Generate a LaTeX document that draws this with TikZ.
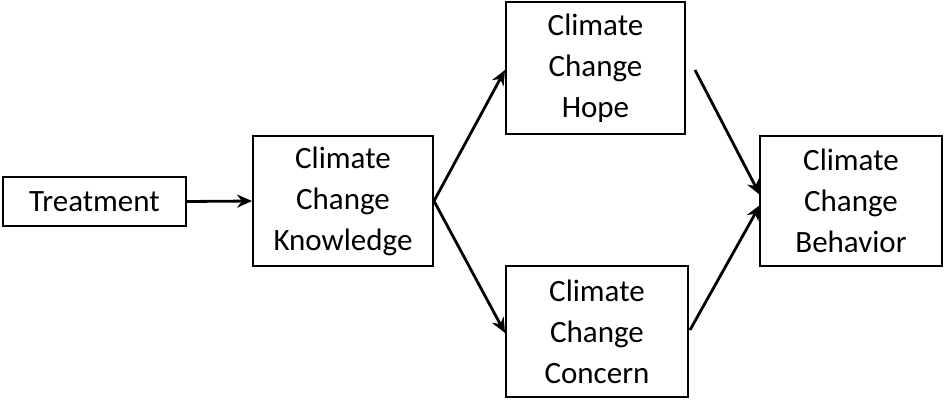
\documentclass[tikz,border=0pt]{standalone}
\usetikzlibrary{arrows.meta}
\usepackage{fontspec}
\setmainfont{Carlito}
\begin{document}
\begin{tikzpicture}[x=1pt,y=-1pt,
  box/.style={draw,line width=1.8pt,inner sep=0pt,align=center,font=\fontsize{31}{41}\selectfont},
  arr/.style={line width=2.8pt,-{Stealth[length=15pt,width=13pt]}}]
\useasboundingbox (0,0) rectangle (945,402);
\node[box,minimum width=183,minimum height=49] (t) at (94.5,201.5) {Treatment};
\node[box,minimum width=180,minimum height=130] (k) at (343,201) {Climate\\Change\\Knowledge};
\node[box,minimum width=179,minimum height=132] (h) at (595.5,68) {Climate\\Change\\Hope};
\node[box,minimum width=182,minimum height=131] (c) at (597,331.5) {Climate\\Change\\Concern};
\node[box,minimum width=182,minimum height=130] (b) at (851,201) {Climate\\Change\\Behavior};
\coordinate (k1) at (434,201);
\draw[arr] (t.east) -- (k.west);
\draw[arr] (k1) -- (505,70);
\draw[arr] (k1) -- (505,333);
\draw[arr] (695,70) -- (760,195);
\draw[arr] (690,330) -- (760,205);
\end{tikzpicture}
\end{document}
